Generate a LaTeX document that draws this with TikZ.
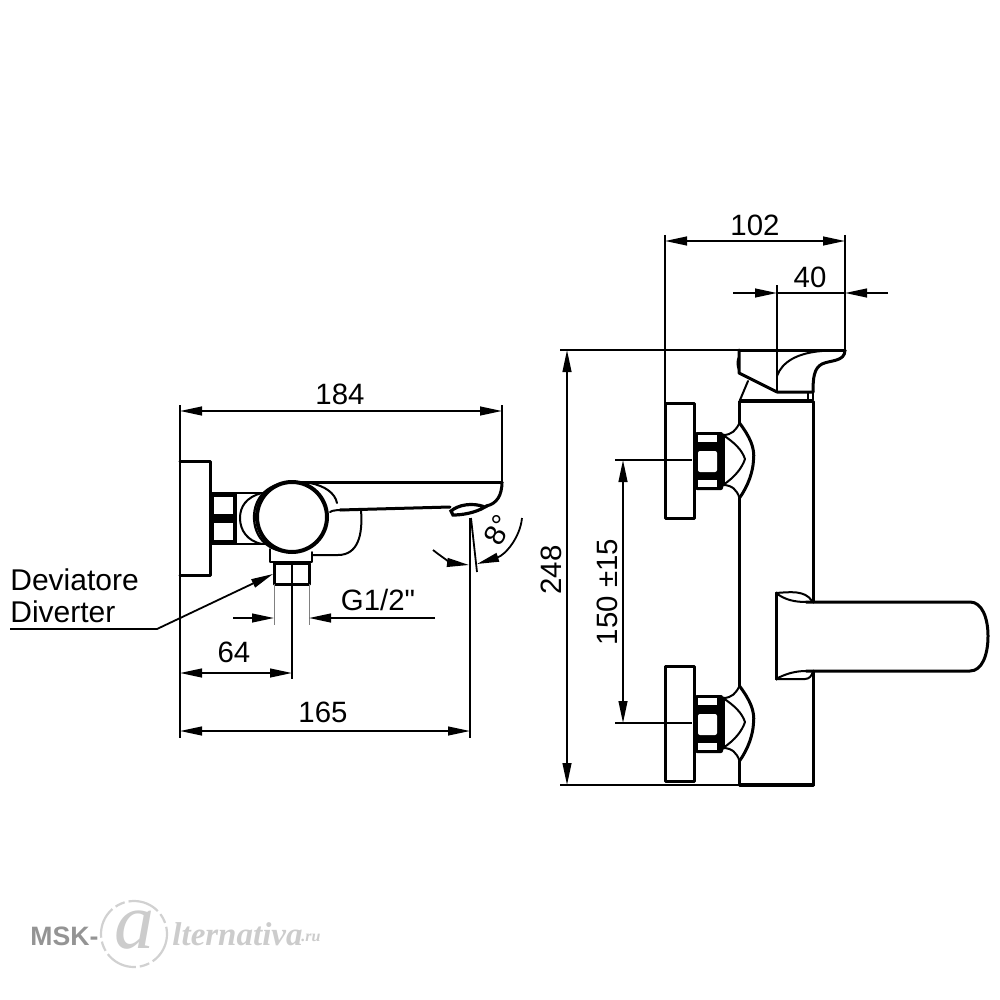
\documentclass[tikz,border=0pt]{standalone}
\usepackage{fontspec}
\setmainfont{Liberation Sans}
\newfontfamily\plainsans{Liberation Sans}
\newfontfamily\wmserif{Liberation Serif}
\usetikzlibrary{arrows.meta}
\tikzset{
  obj/.style={line width=1.5pt,line join=round,line cap=round},
  thin obj/.style={line width=1pt,line join=round,line cap=round},
  ext/.style={line width=0.9pt},
  hair/.style={line width=0.5pt,draw=black!50},
  dim/.style={line width=0.9pt,arrows={Triangle[length=11pt,width=4.4pt]-Triangle[length=11pt,width=4.4pt]}},
  dimr/.style={line width=0.9pt,arrows={-Triangle[length=11pt,width=4.4pt]}},
  lab/.style={inner sep=0pt,font=\fontsize{14.7}{16}\selectfont},
  txt/.style={inner sep=0pt,anchor=west,font=\fontsize{15}{16}\selectfont}
}
\newcommand{\sideunion}[1]{%
  \begin{scope}[yshift=#1]
    \fill[black,rounded corners=1pt] (695,432) rectangle (723,490);
    \fill[white] (698,435) rectangle (717,442);
    \fill[white,rounded corners=1pt] (698,451) rectangle (717,472);
    \fill[white] (698,480) rectangle (717,487);
    \draw[obj] (665,403) rectangle (694,518);
    \draw[obj] (723,435) -- (723,485);
    \draw[obj] (739.5,423) .. controls (750,437) and (755,448) .. (753.5,460) .. controls (753,472) and (748,486) .. (739.5,498);
    \draw[thin obj] (723,435) .. controls (732,435) and (736,430) .. (739.5,423);
    \draw[thin obj] (723,485) .. controls (732,485) and (737,490) .. (739.5,498);
    \draw[thin obj] (723,435) .. controls (735,443) and (742,450) .. (745,459) .. controls (742,468) and (735,477) .. (723,485);
  \end{scope}}
\begin{document}
\begin{tikzpicture}[x=0.5pt,y=-0.5pt]
\useasboundingbox (0,0) rectangle (1000,1000);
\fill[white] (0,0) rectangle (1000,1000);

% --- Left view ---
\coordinate (aL) at (180,411); \coordinate (aR) at (502,411);
\draw[ext] (180,405) -- (180,738);
\draw[ext] (502,405) -- (502,482);
\draw[dim] (aL) -- (aR);
\node[lab] (n184) at (340,394) {184};

\draw[obj] (180,461) -- (210,461) -- (210,575) -- (180,575);
\fill[black] (210,492) rectangle (237,545);
\fill[white] (214,497) rectangle (233,514);
\fill[white] (214,523) rectangle (233,540);
\draw[obj] (285,482) -- (502,482);
\draw[obj] (502,482) .. controls (502,495) and (497,504) .. (486,506);
\draw[obj] (450,507) -- (340,510);
\draw[thin obj] (237,493) -- (272,493);
\draw[thin obj] (237,544) -- (272,544);
\draw[thin obj] (262,493) .. controls (246,497) and (240,507) .. (240,518) .. controls (240,530) and (247,541) .. (262,544);
\draw[thin obj] (310,483) .. controls (325,486) and (335,493) .. (337,503);
\draw[thin obj] (330,512) .. controls (332,510) and (340,510) .. (345,510);
\draw[thin obj] (361,510) .. controls (363,535) and (358,555) .. (338,555) -- (312,555);
\draw[thin obj] (270,549) -- (270,562) -- (312,562) -- (312,552);
\draw[line width=2pt,fill=white] (292,517) circle (35);
\draw[line width=1.1pt] (287,482.5) .. controls (265,485) and (254,500) .. (254,517) .. controls (254,535) and (265,550) .. (287,552);
\draw[obj,fill=white] (274,563) rectangle (309,584);
\draw[line width=1.6pt,fill=white] (451,511) .. controls (458,505) and (472,502) .. (485,507) .. controls (475,513) and (462,515) .. (453,515) -- cycle;

% G1/2
\coordinate (gA) at (274,618); \coordinate (gB) at (309,618);
\coordinate (gL) at (233,618); \coordinate (gR) at (435,618);
\draw[hair] (274,584) -- (274,625);
\draw[hair] (309,584) -- (309,625);
\draw[dimr] (gL) -- (gA);
\draw[dimr] (gR) -- (gB);
\node[lab] (ng) at (378,600) {\plainsans G1/2"};

% Centre line and 64
\draw[ext] (292,563) -- (292,679);
\coordinate (b64) at (180,673); \coordinate (c64) at (292,673);
\draw[dim] (b64) -- (c64);
\node[lab] (n64) at (234,652) {64};

% 165
\coordinate (b165) at (180,731); \coordinate (c165) at (470,731);
\draw[ext] (470,518) -- (470,738);
\draw[dim] (b165) -- (c165);
\node[lab] (n165) at (323,712) {165};

% Angle
\draw[ext] (471,518) -- (477,572);
\coordinate (angL) at (433,550); \coordinate (angA) at (469,565);
\coordinate (angB) at (477,564); \coordinate (angR) at (522,518);
\draw[dimr] (angL) .. controls (443,558) and (452,563) .. (angA);
\draw[dimr] (angR) .. controls (520,538) and (505,555) .. (angB);
\node[lab,rotate=62] (n8) at (498,530) {8°};

% Diverter label
\node[txt] (nde) at (10,580) {Deviatore};
\node[txt] (ndi) at (10,612) {Diverter};
\coordinate (lStart) at (10,629); \coordinate (lKnee) at (157,629); \coordinate (lEnd) at (273,574);
\draw[dimr] (lStart) -- (lKnee) -- (lEnd);

% --- Right view ---
\draw[ext] (560,350) -- (845,350);
\draw[ext] (560,785) -- (815,785);
\draw[ext] (665,235) -- (665,403);
\draw[ext] (845,235) -- (845,350);
\draw[ext] (777,285) -- (777,392);
\coordinate (t1) at (665,241); \coordinate (t2) at (845,241);
\draw[dim] (t1) -- (t2);
\node[lab] (n102) at (755,225) {102};
\coordinate (u1) at (733,293); \coordinate (u2) at (777,293);
\coordinate (u3) at (888,293); \coordinate (u4) at (845,293);
\draw[dimr] (u1) -- (u2);
\draw[ext] (u2) -- (u4);
\draw[dimr] (u3) -- (u4);
\node[lab] (n40) at (810,277) {40};
\coordinate (v1) at (567,350); \coordinate (v2) at (567,785);
\draw[dim] (v1) -- (v2);
\node[lab,rotate=90] (n248) at (551,570) {248};
\draw[ext] (615,460) -- (692,460);
\draw[ext] (615,723) -- (692,723);
\coordinate (w1) at (623,460); \coordinate (w2) at (623,723);
\draw[dim] (w1) -- (w2);
\node[lab,rotate=90] (n150) at (607,592) {150 ±15};

% Body
\sideunion{0pt}
\sideunion{-131.5pt}
\draw[obj] (739.5,423) -- (739.5,401) -- (813,401) -- (813,602);
\draw[line width=2pt] (739.5,401) -- (813,401);
\draw[obj] (739.5,498) -- (739.5,686);
\draw[obj] (739.5,761) -- (739.5,785) -- (813,785) -- (813,671);
\draw[line width=2pt] (739.5,785) -- (813,785);

% Lever
\draw[obj] (739,350) -- (845,350);
\draw[obj] (739,350) -- (739,373) -- (777,392) -- (813,392);
\draw[thin obj] (739,357) .. controls (737,360) and (737,366) .. (739,370);
\draw[obj] (813,392) .. controls (813,378) and (814,368) .. (822,364) .. controls (830,360) and (845,362) .. (845,350);
\draw[thin obj] (777,376) .. controls (782,362) and (797,353) .. (822,351);
\draw[thin obj] (748,381) -- (740,400);
\draw[ext] (808,392) -- (808,400);
\draw[ext] (813,392) -- (813,400);

% Spout
\draw[obj] (776,593) -- (776,679);
\draw[obj] (806,602) -- (970,602) .. controls (982,602) and (988,618) .. (988,636) .. controls (988,655) and (982,671) .. (970,671) -- (806,671);
\draw[thin obj] (776,593) .. controls (790,592) and (805,590) .. (812,601);
\draw[thin obj] (776,593) .. controls (785,600) and (795,602) .. (806,602);
\draw[thin obj] (776,679) -- (805,679) .. controls (809,679) and (812,676) .. (813,671);
\draw[thin obj] (776,679) .. controls (785,674) and (795,671) .. (806,671);

% --- Watermark ---
\node[inner sep=0pt,anchor=west,text=black!42,font=\fontsize{13.3}{16}\bfseries\selectfont] (wm1) at (30,936) {MSK-};
\draw[black!18,line width=1.1pt,dash pattern=on 16pt off 2pt on 5pt off 2pt] (134,934) circle (33);
\node[inner sep=0pt,text=black!20,font=\fontsize{40}{40}\wmserif\itshape\selectfont] (wm2) at (134,930) {a};
\node[inner sep=0pt,anchor=west,text=black!20,font=\fontsize{16.5}{20}\wmserif\bfseries\itshape\selectfont] (wm3) at (172,934) {lternativa};
\node[inner sep=0pt,anchor=west,text=black!20,font=\fontsize{8}{10}\wmserif\bfseries\itshape\selectfont] (wm4) at (301,938) {.ru};
\end{tikzpicture}
\end{document}
